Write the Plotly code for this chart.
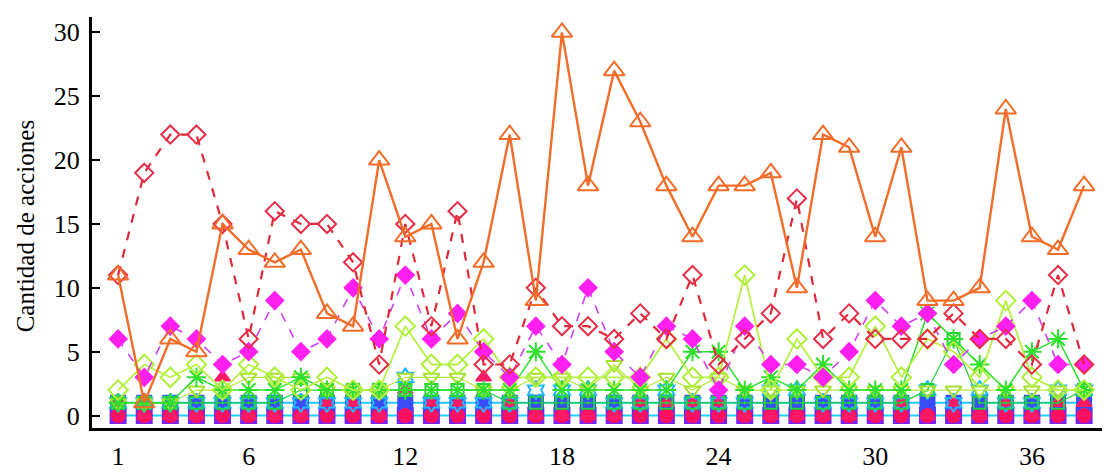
import plotly.graph_objects as go

x = list(range(1, 39))

orange_tri = [11, 1, 6, 5, 15, 13, 12, 13, 8, 7, 20, 14, 15, 6, 12, 22, 9, 30, 18, 27,
              23, 18, 14, 18, 18, 19, 10, 22, 21, 14, 21, 9, 9, 10, 24, 14, 13, 18]
red_dia = [11, 19, 22, 22, 15, 6, 16, 15, 15, 12, 4, 15, 7, 16, 4, 4, 10, 7, 7, 6,
           8, 6, 11, 4, 6, 8, 17, 6, 8, 6, 6, 6, 8, 6, 6, 4, 11, 4]
magenta_dia = [6, 3, 7, 6, 4, 5, 9, 5, 6, 10, 6, 11, 6, 8, 5, 3, 7, 4, 10, 5,
               3, 7, 6, 2, 7, 4, 4, 3, 5, 9, 7, 8, 4, 6, 7, 9, 4, 4]
lime_dia = [2, 4, 3, 4, 2, 4, 3, 2, 3, 2, 2, 7, 4, 4, 6, 3, 3, 3, 3, 3,
            3, 6, 3, 3, 11, 2, 6, 3, 3, 7, 3, 6, 5, 3, 9, 3, 2, 2]
lime_tri_down = [1, 1, 1, 2, 2, 3, 3, 3, 2, 2, 2, 3, 3, 3, 2, 2, 3, 3, 2, 4,
                 2, 3, 2, 3, 2, 2, 2, 2, 2, 2, 2, 2, 2, 2, 2, 2, 2, 2]
green_ast = [1, 1, 1, 3, 2, 2, 2, 3, 2, 2, 2, 2, 2, 2, 2, 2, 5, 2, 2, 2,
             2, 2, 5, 5, 2, 3, 2, 4, 2, 2, 2, 8, 6, 4, 2, 5, 6, 2]
green_sq = [1, 1, 1, 1, 1, 1, 1, 2, 2, 2, 2, 2, 2, 2, 2, 1, 1, 1, 1, 1,
            1, 1, 1, 1, 1, 1, 1, 1, 1, 1, 1, 2, 6, 1, 1, 1, 1, 2]
cyan_star = [1, 1, 1, 1, 1, 1, 1, 1, 1, 1, 1, 3, 1, 1, 1, 1, 2, 2, 2, 1,
             1, 2, 1, 1, 1, 2, 2, 1, 1, 1, 1, 2, 1, 2, 1, 1, 2, 2]
crimson_tri = [1, 0, 0, 0, 3, 0, 0, 0, 1, 1, 0, 2, 1, 1, 3, 1, 0, 0, 0, 0,
               1, 1, 1, 1, 0, 0, 0, 0, 0, 0, 1, 0, 1, 0, 1, 0, 1, 1]
blue_sq = [1] * 38
purple_sq = [0] * 38
crimson_circ = [0] * 38

x_ticks = [1, 6, 12, 18, 24, 30, 36]
y_ticks = [0, 5, 10, 15, 20, 25, 30]

fig = go.Figure()

def add(y, symbol, color, size, line=None, lw=1.5, dash="solid", mlw=2):
    mode = "lines+markers" if line else "markers"
    fig.add_trace(go.Scatter(
        x=x, y=y, mode=mode,
        line=dict(color=line or color, width=lw, dash=dash),
        marker=dict(symbol=symbol, color=color, size=size,
                    line=dict(color=color, width=mlw)),
        showlegend=False, cliponaxis=False))

add(purple_sq, "square", "#7a22f0", 15, line="#20d0ff", lw=2)
add(blue_sq, "square", "#3a4cf5", 14, line="#20c8ff", lw=2)
add(crimson_circ, "circle", "#ff1060", 13)
add(crimson_tri, "triangle-up", "#ff1a66", 13)
add(cyan_star, "hexagram-open", "#22b8ff", 14)
add(green_sq, "square-open-dot", "#22d040", 12, line="#22d040", lw=1.2)
add(lime_tri_down, "triangle-down-open", "#a8e030", 14, line="#b4e840", lw=1.2)
add(green_ast, "asterisk-open", "#2ee02e", 16, line="#2ee02e", lw=1.5)
add(lime_dia, "diamond-open", "#aef03c", 15, line="#b8f048", lw=1.8)
add(magenta_dia, "diamond", "#ff20f0", 13, line="#d040f0", lw=1.6, dash="dash")
add(red_dia, "diamond-open", "#e62e48", 14, line="#e02838", lw=2.2, dash="dash")
add(orange_tri, "triangle-up-open", "#f26c2a", 18, line="#f26c2a", lw=2.4)

fig.update_layout(
    width=1102, height=468,
    margin=dict(l=84, r=5, t=9, b=27),
    paper_bgcolor="white", plot_bgcolor="white",
    font=dict(family="Liberation Serif, Times New Roman, serif", color="black"),
    xaxis=dict(range=[0, 38.8], tickvals=x_ticks, ticks="", showgrid=False,
               zeroline=False, showline=True, linecolor="black", linewidth=3,
               tickfont=dict(size=26), ticklabelstandoff=3),
    yaxis=dict(range=[-0.97, 31.2], tickvals=y_ticks, ticks="inside", ticklen=8,
               tickwidth=2, tickcolor="black", showgrid=False, zeroline=False,
               showline=True, linecolor="black", linewidth=3,
               tickfont=dict(size=26), ticklabelstandoff=4),
    annotations=[dict(text="Cantidad de acciones", textangle=-90, xref="paper", yref="paper",
                      x=(17 - 84) / 1013, y=(441 - 229) / 432, xanchor="center", yanchor="middle",
                      showarrow=False, font=dict(size=25, color="black"))],
)

fig.write_html("out.html")
